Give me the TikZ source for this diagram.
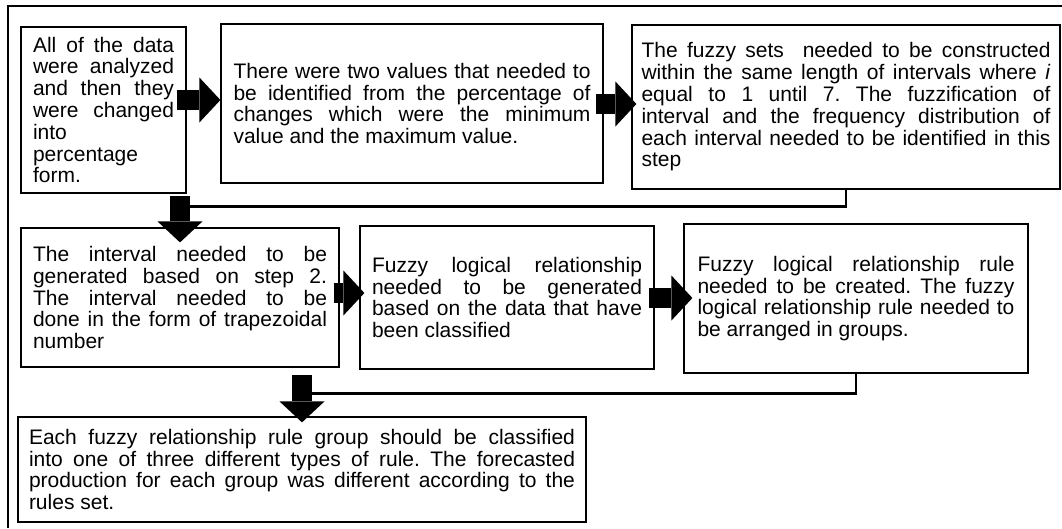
\documentclass[tikz,border=0pt]{standalone}
\usepackage{fontspec}
\setmainfont{Liberation Sans}
\usetikzlibrary{arrows.meta}
\tolerance=10000
\hbadness=10000
\hyphenpenalty=10000
\frenchspacing
\begin{document}
\begin{tikzpicture}[x=1pt,y=-1pt,
  box/.style={draw, line width=1.2pt, inner sep=0pt, align=justify,
    font=\fontsize{21}{21.8}\selectfont},
  conn/.style={line width=2.2pt},
  blk/.style={line width=20pt, -{Triangle[length=21pt,width=45pt,line width=0pt]}},
  frame/.style={line width=1.3pt}]
\useasboundingbox (0,0) rectangle (1062,528);
\draw[frame] (8,528) -- (8,6) -- (1062,6);

\node[box, minimum width=165pt, minimum height=166pt, text width=141pt] (b1) at (103.5,110)
  {All of the data\linebreak were analyzed\linebreak and then they\linebreak were changed\linebreak into\linebreak percentage\linebreak form.};
\node[box, minimum width=382pt, minimum height=159pt, text width=357pt] (b2) at (412,103.5)
  {There were two values that needed to\linebreak be identified from the percentage of\linebreak changes which were the minimum\linebreak value and the maximum value.};
\node[box, minimum width=428pt, minimum height=164pt, text width=409pt] (b3) at (846,107)
  {The fuzzy sets~ needed to be constructed\linebreak within the same length of intervals where \textit{i}\linebreak equal to 1 until 7. The fuzzification of\linebreak interval and the frequency distribution of\linebreak each interval needed to be identified in this\linebreak step};
\node[box, minimum width=318pt, minimum height=139pt, text width=294pt] (b4) at (180,297.5)
  {The interval needed to be\linebreak generated based on step 2.\linebreak The interval needed to be\linebreak done in the form of trapezoidal\linebreak number};
\node[box, minimum width=294pt, minimum height=143pt, text width=270pt] (b5) at (507,297.5)
  {Fuzzy logical relationship\linebreak needed to be generated\linebreak based on the data that have\linebreak been classified};
\node[box, minimum width=344pt, minimum height=149pt, text width=317pt] (b6) at (856,298.5)
  {Fuzzy logical relationship rule\linebreak needed to be created. The fuzzy\linebreak logical relationship rule needed to\linebreak be arranged in groups.};
\node[box, minimum width=568pt, minimum height=105pt, text width=546pt] (b7) at (302,469.5)
  {Each fuzzy relationship rule group should be classified\linebreak into one of three different types of rule. The forecasted\linebreak production for each group was different according to the\linebreak rules set.};

\coordinate (j1) at ([yshift=21pt]b4.north);
\coordinate (j2) at ([yshift=23pt]b7.north);
\draw[conn] (b3.south) |- (j1);
\draw[conn] (b6.south) |- (j2);

\draw[blk] ([xshift=-10pt]b1.east |- 0,100) -- (b2.west |- 0,100);
\draw[blk] ([xshift=-8pt]b2.east |- 0,104) -- ([xshift=5pt]b3.west |- 0,104);
\draw[blk] ([xshift=-6pt]b4.east |- 0,293) -- ([xshift=5pt]b5.west |- 0,293);
\draw[blk] ([xshift=-6pt]b5.east |- 0,298) -- ([xshift=9pt]b6.west |- 0,298);
\draw[blk] ([yshift=31pt]b4.north) -- ([yshift=-15pt]b4.north);
\draw[blk] ([yshift=41pt]b7.north) -- ([yshift=-6pt]b7.north);
\end{tikzpicture}
\end{document}
